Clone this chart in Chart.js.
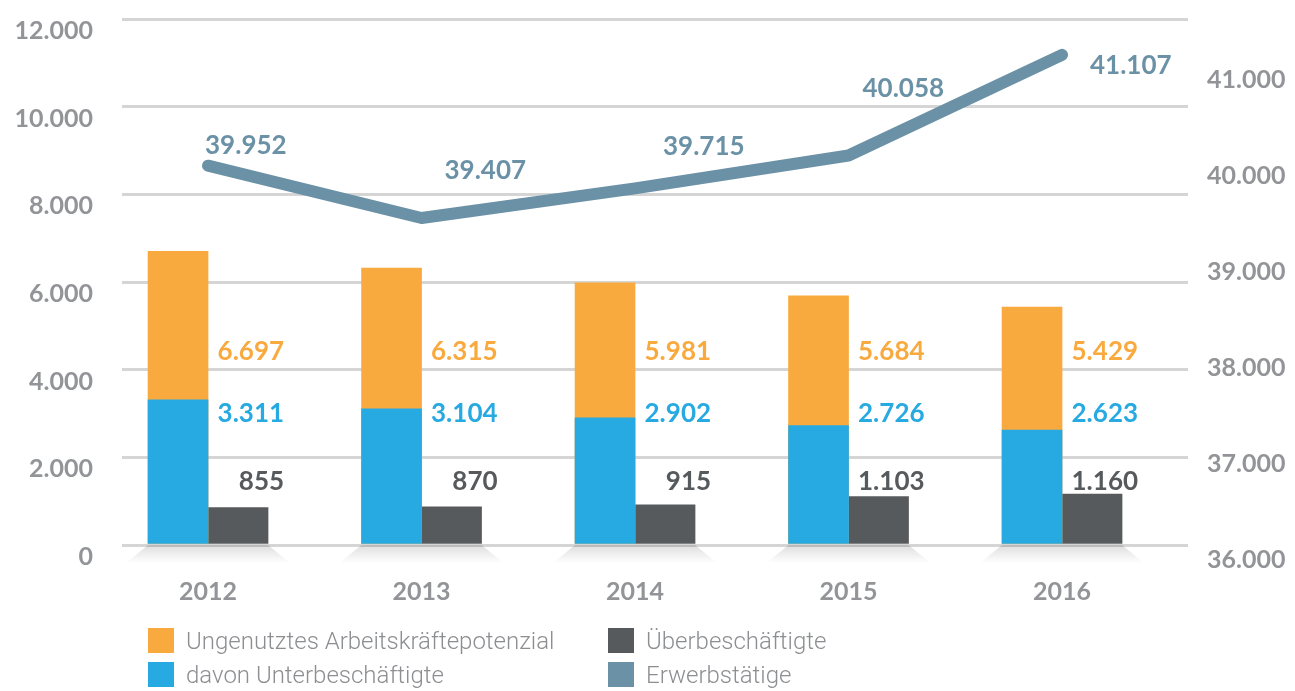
<!DOCTYPE html>
<html lang="de">
<head>
<meta charset="utf-8">
<script src="https://cdn.jsdelivr.net/npm/chart.js@4/dist/chart.umd.min.js"></script>
<style>
  html, body { margin: 0; padding: 0; background: #fff; }
  #wrap { position: relative; width: 1295px; height: 691px; overflow: hidden; }
  #legend { position: absolute; left: 148px; top: 628px; font-family: Roboto, "Noto Sans", sans-serif; font-weight: 300; font-size: 24px; color: #8c8e91; }
  .item { position: absolute; white-space: nowrap; height: 26px; line-height: 26px; }
  .item span { display: inline-block; width: 26px; height: 25px; vertical-align: top; margin-right: 12px; }
</style>
</head>
<body>
<div id="wrap">
  <canvas id="chart" width="1295" height="691"></canvas>
  <div id="legend"></div>
</div>
<script>
// values in thousands
const years = ['2012', '2013', '2014', '2015', '2016'];
const ungenutzt = [6697, 6315, 5981, 5684, 5429];
const unterbeschaeftigt = [3311, 3104, 2902, 2726, 2623];
const ueberbeschaeftigt = [855, 870, 915, 1103, 1160];
const erwerbstaetige = [39952, 39407, 39715, 40058, 41107];

const leftTicks = [0, 2000, 4000, 6000, 8000, 10000, 12000];
const rightTicks = [36000, 37000, 38000, 39000, 40000, 41000];

const cOrange = '#f9aa3f';
const cBlue = '#27a9e1';
const cDark = '#575a5c';
const cLine = '#6b91a6';
const cTick = '#929497';

const fmt = v => String(Math.round(v)).replace(/\B(?=(\d{3})+(?!\d))/g, '.');
const pts = arr => arr.map((v, i) => ({ x: i, y: v }));
const noPad = s => { s.paddingTop = 0; s.paddingBottom = 0; s.paddingLeft = 0; s.paddingRight = 0; };
const tickFont = { family: 'Lato, "Open Sans", sans-serif', weight: 'bold', size: 25 };

// light floor shadow under each bar group
const shadowPlugin = {
  id: 'shadow',
  beforeDatasetsDraw(chart) {
    const ctx = chart.ctx;
    const x = chart.scales.x, y = chart.scales.y;
    const base = y.getPixelForValue(0);
    years.forEach((_, i) => {
      const c = x.getPixelForValue(i);
      const g = ctx.createLinearGradient(0, base, 0, base + 18);
      g.addColorStop(0, 'rgba(0,0,0,0.13)');
      g.addColorStop(1, 'rgba(0,0,0,0)');
      ctx.save();
      ctx.fillStyle = g;
      ctx.beginPath();
      ctx.moveTo(c - 60, base);
      ctx.lineTo(c + 60, base);
      ctx.lineTo(c + 82, base + 18);
      ctx.lineTo(c - 82, base + 18);
      ctx.closePath();
      ctx.fill();
      ctx.restore();
    });
  }
};

// value labels
const lineLabelShift = [[-3, -20], [23, -47], [28, -42], [14, -67], [28, 11]];
const labelPlugin = {
  id: 'labels',
  afterDraw(chart) {
    const ctx = chart.ctx;
    const x = chart.scales.x, y = chart.scales.y;
    ctx.save();
    ctx.font = 'bold 26px Lato, "Open Sans", sans-serif';
    ctx.textBaseline = 'middle';
    ctx.textAlign = 'right';
    years.forEach((_, i) => {
      const r = x.getPixelForValue(i) + 76;
      ctx.fillStyle = cOrange;
      ctx.fillText(fmt(ungenutzt[i]), r, y.getPixelForValue(4420));
      ctx.fillStyle = cBlue;
      ctx.fillText(fmt(unterbeschaeftigt[i]), r, y.getPixelForValue(2990));
      ctx.fillStyle = cDark;
      ctx.fillText(fmt(ueberbeschaeftigt[i]), r, y.getPixelForValue(1450));
    });
    const meta = chart.getDatasetMeta(0);
    ctx.textAlign = 'left';
    ctx.fillStyle = cLine;
    meta.data.forEach((p, i) => {
      const c = x.getPixelForValue(i);
      ctx.fillText(fmt(erwerbstaetige[i]), c + lineLabelShift[i][0], p.y + lineLabelShift[i][1]);
    });
    ctx.restore();
  }
};

const chart = new Chart(document.getElementById('chart'), {
  type: 'bar',
  data: {
    datasets: [
      {
        type: 'line',
        label: 'Erwerbstätige',
        data: pts(erwerbstaetige),
        yAxisID: 'y1',
        borderColor: cLine,
        backgroundColor: cLine,
        borderWidth: 12,
        borderCapStyle: 'round',
        borderJoinStyle: 'round',
        pointRadius: 0,
        tension: 0,
        order: 0
      },
      {
        label: 'davon Unterbeschäftigte',
        data: pts(unterbeschaeftigt),
        backgroundColor: cBlue,
        stack: 'a',
        barThickness: 60,
        order: 1
      },
      {
        label: 'Ungenutztes Arbeitskräftepotenzial',
        data: pts(ungenutzt),
        backgroundColor: cOrange,
        stack: 'a',
        barThickness: 60,
        order: 2
      },
      {
        label: 'Überbeschäftigte',
        data: pts(ueberbeschaeftigt),
        backgroundColor: cDark,
        stack: 'b',
        barThickness: 60,
        order: 3
      }
    ]
  },
  options: {
    responsive: false,
    animation: false,
    layout: { padding: { top: 19, left: 0, right: 0, bottom: 0 } },
    plugins: { legend: { display: false }, tooltip: { enabled: false } },
    scales: {
      x: {
        type: 'linear',
        offset: false,
        min: -0.403,
        max: 4.59,
        grid: { display: false },
        border: { display: false },
        afterFit: s => { noPad(s); s.height = 146; },
        afterBuildTicks: s => { s.ticks = years.map((_, i) => ({ value: i })); },
        ticks: {
          padding: 24,
          color: cTick,
          font: tickFont,
          callback: v => years[v] || ''
        }
      },
      y: {
        stacked: false,
        position: 'left',
        min: 0,
        max: 12000,
        z: 1,
        afterFit: s => { noPad(s); s.width = 122; },
        afterBuildTicks: s => { s.ticks = leftTicks.map(v => ({ value: v })); },
        grid: { color: 'rgba(150,150,150,0.4)', lineWidth: 3, drawTicks: false },
        border: { display: false },
        ticks: {
          padding: 29,
          labelOffset: 12,
          color: cTick,
          font: tickFont,
          callback: v => fmt(v)
        }
      },
      y1: {
        position: 'right',
        min: 36000,
        max: 41480,
        afterFit: s => { noPad(s); s.width = 107; },
        afterBuildTicks: s => { s.ticks = rightTicks.map(v => ({ value: v })); },
        grid: { display: false },
        border: { display: false },
        ticks: {
          padding: 11,
          labelOffset: 15,
          color: cTick,
          font: tickFont,
          callback: v => fmt(v)
        }
      }
    }
  },
  plugins: [shadowPlugin, labelPlugin]
});

// legend in two columns, like the original
const legendItems = [
  ['Ungenutztes Arbeitskräftepotenzial', cOrange, 0, 0],
  ['davon Unterbeschäftigte', cBlue, 0, 1],
  ['Überbeschäftigte', cDark, 1, 0],
  ['Erwerbstätige', cLine, 1, 1]
];
const legend = document.getElementById('legend');
legendItems.forEach(([text, color, col, row]) => {
  const d = document.createElement('div');
  d.className = 'item';
  d.style.left = (col * 460) + 'px';
  d.style.top = (row * 34) + 'px';
  d.innerHTML = '<span style="background:' + color + '"></span>' + text;
  legend.appendChild(d);
});
</script>
</body>
</html>
